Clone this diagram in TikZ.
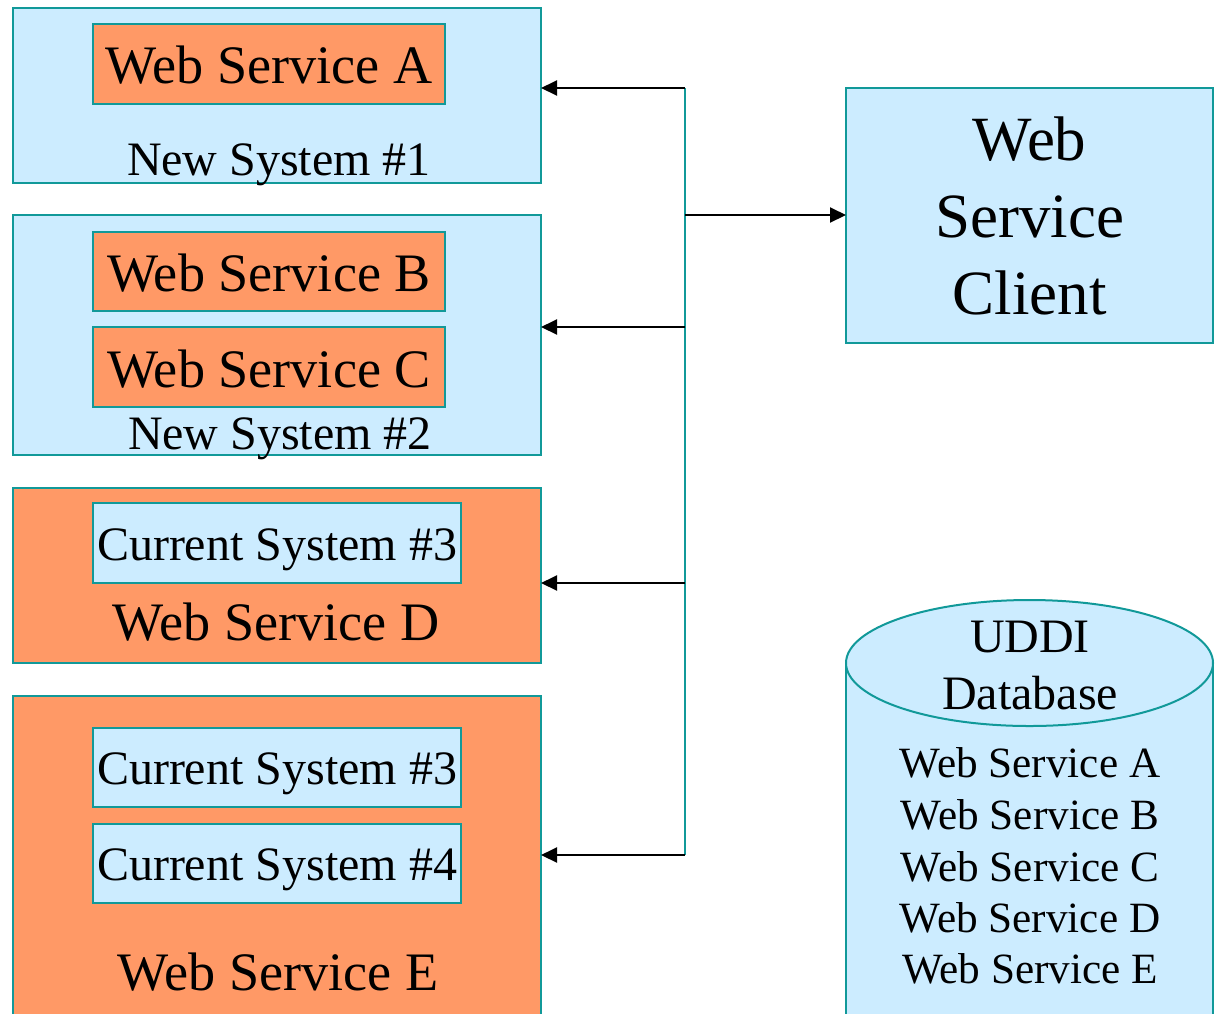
\documentclass[tikz,border=0pt]{standalone}
\usepackage{fontspec}
\setmainfont{Liberation Serif}
\usetikzlibrary{arrows.meta}
\definecolor{lblue}{HTML}{CCECFF}
\definecolor{lorange}{HTML}{FF9966}
\definecolor{tealb}{HTML}{119999}
\tikzset{
  box/.style={draw=tealb, line width=2pt, inner sep=0pt, outer sep=0pt},
  bluebox/.style={box, fill=lblue},
  orangebox/.style={box, fill=lorange},
  fbig/.style={font=\fontsize{54.2}{62}\selectfont},
  fmid/.style={font=\fontsize{48}{56}\selectfont},
  flist/.style={font=\fontsize{43.2}{50}\selectfont},
  innerA/.style={orangebox, fbig, minimum width=352pt, text height=40pt, text depth=0pt},
  innerC/.style={bluebox, fmid, minimum width=368pt, text height=34pt, text depth=0pt},
  lbl/.style={anchor=base, inner sep=0pt},
  arr/.style={draw=black, line width=2pt, -{Triangle[length=16pt,width=15pt]}},
  bus/.style={draw=tealb, line width=2pt}
}
\begin{document}
\begin{tikzpicture}[x=1pt,y=-1pt]
\useasboundingbox (0,0) rectangle (1217,1013);
\clip (0,0) rectangle (1217,1013);
\fill[white] (0,0) rectangle (1217,1013);

% left systems
\node[bluebox, minimum width=528pt, minimum height=175pt] (n1) at (277,95.5) {};
\node[innerA, minimum height=80pt] (wsA) at (269,63.5) {Web Service A};
\node[lbl, fmid] (lab1) at (279,175) {New System \#1};

\node[bluebox, minimum width=528pt, minimum height=240pt] (n2) at (277,335) {};
\node[innerA, minimum height=79pt] (wsB) at (269,271.5) {Web Service B};
\node[innerA, minimum height=80pt] (wsC) at (269,367) {Web Service C};
\node[lbl, fmid] (lab2) at (280,449) {New System \#2};

\node[orangebox, minimum width=528pt, minimum height=175pt] (n3) at (277,575.5) {};
\node[innerC, minimum height=80pt] (cs3a) at (277,543) {Current System \#3};
\node[lbl, fbig] (labD) at (276,640) {Web Service D};

\node[orangebox, minimum width=528pt, minimum height=344pt] (n4) at (277,868) {};
\node[innerC, minimum height=79pt] (cs3b) at (277,767.5) {Current System \#3};
\node[innerC, minimum height=79pt] (cs4) at (277,863.5) {Current System \#4};
\node[lbl, fbig] (labE) at (278,990) {Web Service E};

% client
\node[bluebox, minimum width=367pt, minimum height=255pt, align=center,
      font=\fontsize{63}{77}\selectfont] (client) at (1029.5,215.5) {Web\\Service\\Client};

% cylinder
\fill[lblue] (846,663) rectangle (1213,1040);
\draw[bus] (846,663) -- (846,1040);
\draw[bus] (1213,663) -- (1213,1040);
\filldraw[fill=lblue, draw=tealb, line width=2pt] (1029.5,663) ellipse [x radius=183.5, y radius=63];
\node[lbl, fmid] (uddi) at (1030,652) {UDDI};
\node[lbl, fmid] (db) at (1030,709) {Database};
\node[lbl, flist] (la) at (1030,777) {Web Service A};
\node[lbl, flist] (lb) at (1030,829) {Web Service B};
\node[lbl, flist] (lc) at (1030,881) {Web Service C};
\node[lbl, flist] (ld) at (1030,932) {Web Service D};
\node[lbl, flist] (le) at (1030,983) {Web Service E};

% connectors
\coordinate (j1) at (685,88);
\coordinate (j2) at (685,215);
\coordinate (j3) at (685,327);
\coordinate (j4) at (685,583);
\coordinate (j5) at (685,855);
\draw[bus] (j1) -- (j5);
\draw[arr] (j1) -- (j1 -| n1.east);
\draw[arr] (j3) -- (j3 -| n2.east);
\draw[arr] (j4) -- (j4 -| n3.east);
\draw[arr] (j5) -- (j5 -| n4.east);
\draw[arr] (j2) -- (j2 -| client.west);
\end{tikzpicture}
\end{document}
